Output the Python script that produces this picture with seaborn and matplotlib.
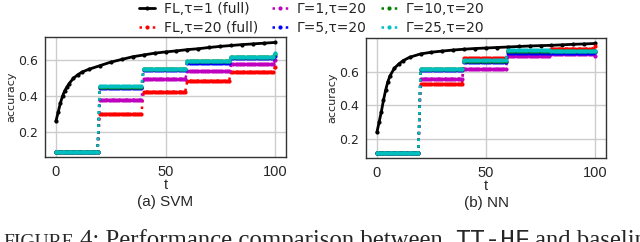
import numpy as np
import matplotlib
matplotlib.use("Agg")
import matplotlib.pyplot as plt
import seaborn as sns

# rounds
t = np.arange(0, 101)

# FL, tau=1 (full): values read at selected rounds
svm_fl_t = [0, 1, 2, 3, 4, 5, 6, 8, 10, 12, 15, 20, 25, 30, 35, 40, 45, 50,
            55, 60, 65, 70, 75, 80, 85, 90, 95, 100]
svm_fl = [0.26, 0.31, 0.36, 0.40, 0.43, 0.45, 0.47, 0.50, 0.52, 0.535, 0.55,
          0.57, 0.59, 0.605, 0.62, 0.63, 0.64, 0.647, 0.653, 0.66, 0.665,
          0.672, 0.678, 0.683, 0.688, 0.692, 0.696, 0.70]
nn_fl_t = svm_fl_t
nn_fl = [0.24, 0.30, 0.36, 0.43, 0.49, 0.54, 0.575, 0.62, 0.645, 0.665, 0.685,
         0.705, 0.715, 0.722, 0.728, 0.733, 0.737, 0.74, 0.743, 0.746, 0.749,
         0.752, 0.754, 0.756, 0.759, 0.762, 0.764, 0.767]

# tau=20 runs: accuracy held constant over each 20-round block (+ final round)
svm_red = [0.09, 0.30, 0.425, 0.486, 0.536, 0.56]
svm_mag = [0.09, 0.38, 0.497, 0.538, 0.577, 0.60]
svm_blue = [0.09, 0.445, 0.545, 0.587, 0.611, 0.625]
svm_green = [0.09, 0.453, 0.551, 0.594, 0.617, 0.638]
svm_cyan = [0.09, 0.455, 0.552, 0.595, 0.618, 0.64]

nn_red = [0.12, 0.526, 0.678, 0.725, 0.736, 0.752]
nn_mag = [0.12, 0.558, 0.616, 0.692, 0.703, 0.695]
nn_blue = [0.12, 0.61, 0.656, 0.712, 0.712, 0.715]
nn_green = [0.12, 0.614, 0.664, 0.724, 0.720, 0.723]
nn_cyan = [0.12, 0.616, 0.666, 0.726, 0.722, 0.725]

labels = ["FL,τ=1 (full)", "FL,τ=20 (full)", "Γ=1,τ=20", "Γ=5,τ=20",
          "Γ=10,τ=20", "Γ=25,τ=20"]
colors = ["k", "r", "m", "b", "g", "c"]


def blocks(levels):
    return np.array(levels)[t // 20]


sns.set_style("whitegrid")
plt.rcParams["font.family"] = ["DejaVu Sans"]

fig = plt.figure(figsize=(6.4, 2.42), dpi=100)
W, H = 640, 242
ax1 = fig.add_axes([45 / W, (H - 157) / H, 241 / W, 120 / H])
ax2 = fig.add_axes([366 / W, (H - 158) / H, 240 / W, 120 / H])

panels = [
    (ax1, svm_fl_t, svm_fl, [svm_red, svm_mag, svm_blue, svm_green, svm_cyan], "(a) SVM"),
    (ax2, nn_fl_t, nn_fl, [nn_red, nn_mag, nn_blue, nn_green, nn_cyan], "(b) NN"),
]

for ax, ft, fv, steps, title in panels:
    sns.lineplot(x=ft, y=fv, ax=ax, color=colors[0], marker=".", markersize=6,
                 markeredgewidth=0, linewidth=2.0, label=labels[0])
    for lv, c, lab in zip(steps, colors[1:], labels[1:]):
        sns.lineplot(x=t, y=blocks(lv), ax=ax, color=c, linestyle=":",
                     marker=".", markersize=6, markeredgewidth=0,
                     linewidth=1.8, label=lab)
    ax.set_xticks([0, 50, 100])
    ax.set_yticks([0.2, 0.4, 0.6])
    ax.grid(True, color="#cccccc", linewidth=1)
    for s in ax.spines.values():
        s.set_color("#333333")
        s.set_linewidth(1)
    ax.tick_params(axis="x", length=0, pad=6, labelsize=10.5)
    ax.tick_params(axis="y", length=3, color="#999999", pad=2, labelsize=9)
    for lb in ax.get_xticklabels():
        lb.set_family("Liberation Sans")
    ax.set_xlabel("t", family="Liberation Sans", fontsize=10.5, labelpad=-1)
    ax.set_ylabel("accuracy", fontsize=8)
    ax.yaxis.set_label_coords(-0.12, 0.5)
    ax.text(0.5, -0.375, title, transform=ax.transAxes, ha="center",
            va="center", family="Liberation Sans", fontsize=11)
    ax.get_legend().remove()

handles, labs = ax1.get_legend_handles_labels()
fig.legend(handles, labs, loc="upper center", bbox_to_anchor=(0.487, 1.043),
           ncol=3, frameon=False, fontsize=10, handlelength=1.2,
           handletextpad=0.6, columnspacing=1.0, labelspacing=0.35)

# caption (cut off at the bottom edge, as in the source)
cy = -5 / H
fig.text(3 / W, cy, "FIGURE", family="Liberation Serif", fontsize=14, va="baseline")
fig.text(80 / W, cy, "4: Performance comparison between", family="Liberation Serif",
         fontsize=17.8, va="baseline")
fig.text(455 / W, cy, "TT-HF", family="Liberation Mono", fontsize=18, va="baseline")
fig.text(535 / W, cy, "and baselines", family="Liberation Serif", fontsize=17.8,
         va="baseline")

fig.savefig("out.png", dpi=100)
